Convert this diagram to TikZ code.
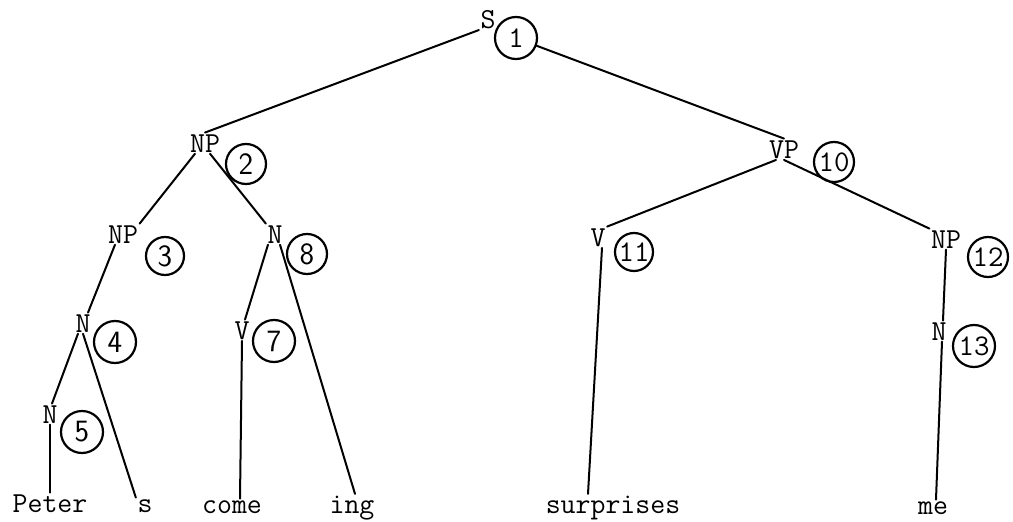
\documentclass[tikz,border=0pt]{standalone}
\tikzset{
  catnode/.style={font=\ttfamily\fontsize{29}{30}\selectfont, inner sep=1.5pt, anchor=base},
  wordnode/.style={catnode},
  numc/.style={circle, draw, line width=2.2pt, minimum size=#1, inner sep=0pt, font=\sffamily\fontsize{31}{32}\selectfont},
  numt/.style={numc=#1, font=\ttfamily\fontsize{30}{31}\selectfont},
  link/.style={line width=2pt, line cap=round},
}
\begin{document}
\begin{tikzpicture}[x=1pt,y=-1pt]
\useasboundingbox (0,0) rectangle (1013,522);
% categories
\node[catnode] (S) at (488,28) {S};
\node[numt=42pt] (c1) at (516,38) {1};
\node[catnode] (NP2) at (205,152) {NP};
\node[numc=40pt] (c2) at (246,164) {2};
\node[catnode] (NP3) at (123,243) {NP};
\node[numc=38pt] (c3) at (165,256) {3};
\node[catnode] (N8) at (275,243) {N};
\node[numc=40pt] (c8) at (307,254) {8};
\node[catnode] (N4) at (83,332) {N};
\node[numc=42pt] (c4) at (115,342) {4};
\node[catnode] (N5) at (50,423) {N};
\node[numc=42pt] (c5) at (82,432) {5};
\node[catnode] (V7) at (242,339) {V};
\node[numc=42pt] (c7) at (274,341) {7};
\node[catnode] (VP) at (784,158) {VP};
\node[numt=40pt] (c10) at (834,162) {10};
\node[catnode] (V11) at (598,246) {V};
\node[numt=38pt] (c11) at (634,252) {11};
\node[catnode] (NP12) at (946,248) {NP};
\node[numt=40pt] (c12) at (988,257) {12};
\node[catnode] (N13) at (939,340) {N};
\node[numt=42pt] (c13) at (974,346) {13};
% words
\node[wordnode] (peter) at (50,512) {Peter};
\node[wordnode] (s) at (145,512) {s};
\node[wordnode] (come) at (232,513) {come};
\node[wordnode] (ing) at (352,513) {ing};
\node[wordnode] (surprises) at (613,513) {surprises};
\node[wordnode] (me) at (933,514) {me};
% connectors
\draw[link] (S.south west) -- (NP2.north);
\draw[link] (c1) -- (VP.north);
\draw[link] ([xshift=-10pt]NP2.south) -- (NP3.north east);
\draw[link] ([xshift=5pt]NP2.south) -- (N8.north west);
\draw[link] ([xshift=-8pt]NP3.south) -- ([xshift=5pt]N4.north);
\draw[link] ([xshift=-5pt]N4.south) -- ([xshift=2pt]N5.north);
\draw[link] (N4.south) -- (s.north west);
\draw[link] (N5.south) -- (peter.north);
\draw[link] ([xshift=-7pt]N8.south) -- ([xshift=3pt]V7.north);
\draw[link] ([xshift=5pt]N8.south) -- ([xshift=3pt]ing.north);
\draw[link] (V7.south) -- ([xshift=8pt]come.north);
\draw[link] ([xshift=-8pt]VP.south) -- (V11.north east);
\draw[link] (VP.south) -- (NP12.north west);
\draw[link] ([xshift=4pt]V11.south) -- ([xshift=-25pt]surprises.north);
\draw[link] (NP12.south) -- ([xshift=4pt]N13.north);
\draw[link] ([xshift=3pt]N13.south) -- ([xshift=3pt]me.north);
\end{tikzpicture}
\end{document}
